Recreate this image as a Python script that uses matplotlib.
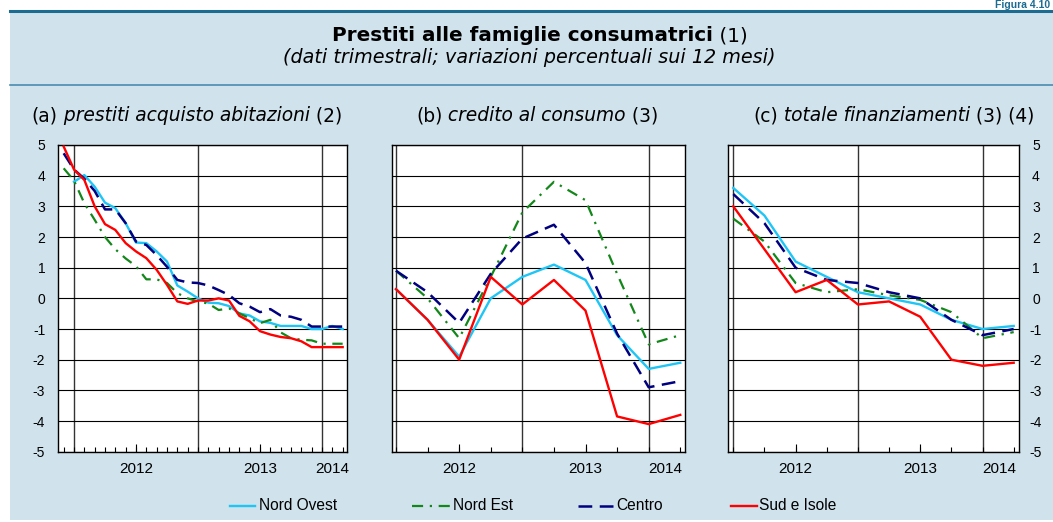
import numpy as np
import matplotlib
matplotlib.use("Agg")
import matplotlib.pyplot as plt
from matplotlib.lines import Line2D
from matplotlib.patches import Rectangle

plt.rcParams['font.family'] = ['Liberation Sans', 'DejaVu Sans']
plt.rcParams['axes.unicode_minus'] = False

W, H = 1053, 522

# ---------------- data ----------------
# panel (a): monthly, x = months from Jan 2012 (Dec 2011 = -1 ... Mar 2014 = 26)
months_a = np.arange(-1, 27)
nord_ovest_a = [np.nan, 3.8, 4.02, 3.64, 3.12, 2.94, 2.45, 1.82, 1.8, 1.53, 1.2, 0.42,
                0.22, 0.0, -0.14, -0.16, -0.25, -0.49, -0.56, -0.75, -0.8, -0.9, -0.9,
                -0.9, -1.0, -1.0, -0.9, -1.0]
nord_est_a = [4.24, 3.84, 3.1, 2.56, 2.0, 1.6, 1.3, 1.05, 0.62, 0.62, 0.5, 0.17, 0.0,
              -0.1, -0.17, -0.38, -0.33, -0.49, -0.65, -0.81, -0.7, -1.11, -1.3, -1.35,
              -1.37, -1.48, -1.48, -1.48]
centro_a = [4.73, 4.2, 3.9, 3.5, 2.9, 2.9, 2.45, 1.85, 1.74, 1.41, 1.03, 0.6, 0.52, 0.5,
            0.42, 0.27, 0.11, -0.16, -0.27, -0.45, -0.35, -0.56, -0.6, -0.7, -0.92,
            -0.92, -0.92, -0.92]
sud_isole_a = [4.95, 4.2, 3.86, 3.0, 2.42, 2.23, 1.8, 1.53, 1.31, 0.93, 0.44, -0.1,
               -0.18, -0.07, -0.07, 0.0, -0.07, -0.57, -0.75, -1.07, -1.18, -1.26, -1.3,
               -1.4, -1.59, -1.59, -1.59, -1.59]

# panels (b), (c): quarterly, x = quarters (Dec 2011 = 0 ... Mar 2014 = 9)
quarters = np.arange(0, 10)
nord_ovest_b = [0.3, -0.7, -1.9, 0.0, 0.7, 1.1, 0.6, -1.2, -2.3, -2.1]
nord_est_b = [0.9, 0.0, -1.3, 0.7, 2.8, 3.8, 3.2, 0.8, -1.5, -1.2]
centro_b = [0.9, 0.2, -0.8, 0.8, 1.95, 2.4, 1.15, -1.15, -2.9, -2.7]
sud_isole_b = [0.3, -0.7, -2.0, 0.7, -0.2, 0.6, -0.4, -3.85, -4.1, -3.8]

nord_ovest_c = [3.6, 2.7, 1.2, 0.7, 0.2, 0.0, -0.2, -0.7, -1.0, -0.9]
nord_est_c = [2.6, 1.85, 0.5, 0.2, 0.3, 0.1, -0.05, -0.45, -1.3, -1.1]
centro_c = [3.4, 2.45, 1.0, 0.6, 0.5, 0.2, 0.0, -0.7, -1.2, -1.0]
sud_isole_c = [3.0, 1.6, 0.2, 0.6, -0.2, -0.1, -0.6, -2.0, -2.2, -2.1]

series_names = ['Nord Ovest', 'Nord Est', 'Centro', 'Sud e Isole']
year_labels = ['2012', '2013', '2014']
y_ticks = list(range(-5, 6))

# ---------------- styles ----------------
styles = {
    'Nord Ovest': dict(color='#1ec5f5', lw=1.7, ls='-'),
    'Nord Est': dict(color='#13871a', lw=1.6, ls=(0, (5, 3, 1, 3))),
    'Centro': dict(color='#000080', lw=1.8, ls=(0, (5.5, 3))),
    'Sud e Isole': dict(color='#ff0000', lw=1.7, ls='-'),
}
BG = '#d0e2ec'


def fx(x):
    return x / W


def fy(y):
    return 1 - y / H


fig = plt.figure(figsize=(W / 100, H / 100), dpi=100)
fig.patch.set_facecolor('white')
fig.patches.append(Rectangle((fx(10), fy(520)), fx(W - 10), (520 - 11) / H,
                             transform=fig.transFigure, facecolor=BG,
                             edgecolor='none', zorder=-5))
fig.lines.append(Line2D([fx(10), 1], [fy(10.8), fy(10.8)], transform=fig.transFigure,
                        color='#1c6b91', lw=2.2, zorder=-4))
fig.lines.append(Line2D([fx(10), 1], [fy(84.5), fy(84.5)], transform=fig.transFigure,
                        color='#4a8cb0', lw=1.2, zorder=-4))

renderer = fig.canvas.get_renderer()


def place_parts(parts, x0, y_base, fs, target_w=None, family='DejaVu Sans'):
    texts = [fig.text(0, fy(y_base), s, fontsize=fs, family=family, style=st,
                      weight=wt, ha='left', va='baseline') for s, st, wt in parts]
    if target_w is not None:
        tot = sum(t.get_window_extent(renderer).width for t in texts)
        fs = fs * target_w / tot
        for t in texts:
            t.set_fontsize(fs)
    x = x0
    for t in texts:
        t.set_x(fx(x))
        x += t.get_window_extent(renderer).width
    return fs


fig.text(fx(1050), fy(8.5), 'Figura 4.10', fontsize=7.5, weight='bold',
         color='#1c6b91', ha='right', va='baseline')

place_parts([('Prestiti alle famiglie consumatrici', 'normal', 'bold'),
             (' (1)', 'normal', 'normal')], 332, 41, 14, target_w=416)
place_parts([('(dati trimestrali; variazioni percentuali sui 12 mesi)', 'italic', 'normal')],
            283, 63, 12, target_w=490)
pfs = place_parts([('(a)', 'normal', 'normal'),
                   (' prestiti acquisto abitazioni', 'italic', 'normal'),
                   (' (2)', 'normal', 'normal')], 31.7, 121, 13, target_w=310)
place_parts([('(b)', 'normal', 'normal'), (' credito al consumo', 'italic', 'normal'),
             (' (3)', 'normal', 'normal')], 416, 121, pfs)
place_parts([('(c)', 'normal', 'normal'), (' totale finanziamenti', 'italic', 'normal'),
             (' (3) (4)', 'normal', 'normal')], 753, 121, pfs)

top, bottom = 145, 451.7
panels = [
    dict(l=58.3, r=347, x=months_a, xlim=(-1.52, 26.42), bounds=[0, 12, 24],
         lab=[6, 18, 25], ticklen=(3.6, 5.8),
         data=[nord_ovest_a, nord_est_a, centro_a, sud_isole_a], ylab='left'),
    dict(l=391.7, r=685, x=quarters, xlim=(-0.136, 9.15), bounds=[0, 4, 8],
         lab=[2, 6, 8.52], ticklen=(3.6, 5.8),
         data=[nord_ovest_b, nord_est_b, centro_b, sud_isole_b], ylab=None),
    dict(l=728.3, r=1019.3, x=quarters, xlim=(-0.16, 9.18), bounds=[0, 4, 8],
         lab=[2, 6, 8.53], ticklen=(3.6, 5.8),
         data=[nord_ovest_c, nord_est_c, centro_c, sud_isole_c], ylab='right'),
]

for p in panels:
    ax = fig.add_axes([fx(p['l']), fy(bottom), (p['r'] - p['l']) / W, (bottom - top) / H])
    ax.set_facecolor('white')
    for s in ax.spines.values():
        s.set_color('black')
        s.set_linewidth(1.0)
    ax.set_ylim(-5, 5)
    ax.set_xlim(*p['xlim'])
    ax.set_yticks(y_ticks)
    ax.grid(axis='y', color='black', lw=0.8)
    for b in p['bounds']:
        ax.axvline(b, color='#333333', lw=1.0, zorder=1.5)
    for name, vals in zip(series_names, p['data']):
        st = styles[name]
        ax.plot(p['x'], vals, color=st['color'], lw=st['lw'], linestyle=st['ls'],
                zorder=3)
    ax.set_xticks(p['lab'])
    ax.set_xticklabels(year_labels)
    ax.set_xticks(p['x'], minor=True)
    ax.xaxis.remove_overlapping_locs = False
    ax.tick_params(axis='x', which='major', direction='in', length=p['ticklen'][1],
                   width=0.8, pad=7.4, labelsize=11, top=False, colors='black')
    ax.tick_params(axis='x', which='minor', direction='in', length=p['ticklen'][0],
                   width=0.8, top=False)
    ax.xaxis.get_major_ticks()[2].tick1line.set_visible(False)
    if p['ylab'] == 'left':
        ax.tick_params(axis='y', length=0, labelsize=10, pad=9.4)
    elif p['ylab'] == 'right':
        ax.yaxis.tick_right()
        ax.tick_params(axis='y', length=0, labelsize=10, pad=12, labelright=True,
                       labelleft=False)
        for lbl in ax.get_yticklabels():
            lbl.set_horizontalalignment('center')
    else:
        ax.tick_params(axis='y', length=0, labelleft=False)

# legend
legend_items = [
    ('Nord Ovest', 230, 255, 258.6),
    ('Nord Est', 411.7, 450, 453),
    ('Centro', 577.6, 614.5, 616.5),
    ('Sud e Isole', 730.7, 757, 759),
]
ly = 505.7
for name, x1, x2, xt in legend_items:
    st = styles[name]
    fig.lines.append(Line2D([fx(x1), fx(x2)], [fy(ly), fy(ly)], transform=fig.transFigure,
                            color=st['color'], lw=st['lw'], linestyle=st['ls']))
    fig.text(fx(xt), fy(ly), name, fontsize=11.2, ha='left', va='center')

fig.savefig('out.png', dpi=100)
